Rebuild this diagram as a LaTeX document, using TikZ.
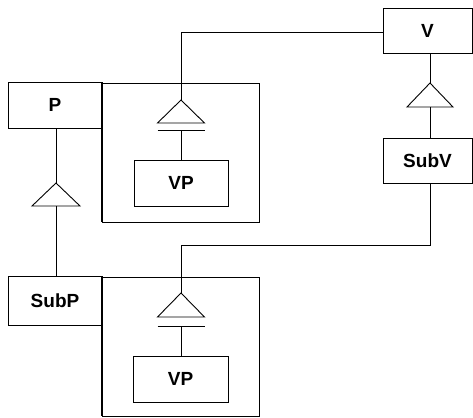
\documentclass[tikz,border=0pt]{standalone}
\usepackage{fontspec}
\setmainfont{Liberation Sans}
\begin{document}
\begin{tikzpicture}[x=1pt,y=-1pt,line width=0.9pt,
  box/.style={draw,rectangle,inner sep=0pt,font=\fontsize{19}{22}\selectfont\bfseries},
  frame/.style={draw,rectangle,inner sep=0pt}]
\useasboundingbox (0,0) rectangle (473,417);
% frames
\node[frame,minimum width=157pt,minimum height=139pt] (F1) at (180.5,152.5) {};
\node[frame,minimum width=157pt,minimum height=139pt] (F2) at (180.5,346.5) {};
% boxes
\node[box,minimum width=89pt,minimum height=45pt] (V) at (427.5,30.5) {V};
\node[box,minimum width=89pt,minimum height=45pt] (SubV) at (427.5,160.5) {SubV};
\node[box,minimum width=94pt,minimum height=46pt,fill=white] (P) at (55,105) {P};
\node[box,minimum width=94pt,minimum height=49pt,fill=white] (SubP) at (55,300.5) {SubP};
\node[box,minimum width=94pt,minimum height=46pt] (VP1) at (181,183) {VP};
\node[box,minimum width=95pt,minimum height=46pt] (VP2) at (180.5,379) {VP};
% re-draw frame edges over filled boxes
\draw (F1.north west) -- (F1.south west);
\draw (F2.north west) -- (F2.south west);
% triangle apexes, bases and bars
\coordinate (tA) at (181,100); \coordinate (tAb) at (181,123); \coordinate (barA) at (181,130);
\coordinate (tP) at (56,183);  \coordinate (tPb) at (56,206);
\coordinate (tV) at (430,83);  \coordinate (tVb) at (430,107);
\coordinate (tB) at (181,293); \coordinate (tBb) at (181,317); \coordinate (barB) at (181,326);
\draw (tA) -- ++(23.5,23) -- ++(-47,0) -- cycle;
\draw (tP) -- ++(24,23) -- ++(-48,0) -- cycle;
\draw (tV) -- ++(23,24) -- ++(-46,0) -- cycle;
\draw (tB) -- ++(23.5,24) -- ++(-47,0) -- cycle;
\draw ([xshift=-23.5pt]barA) -- ([xshift=23.5pt]barA);
\draw ([xshift=-23.5pt]barB) -- ([xshift=23.5pt]barB);
% connectors
\draw (V.west |- 0,32) -| (tA);
\draw (barA) -- (VP1.north);
\draw (P.south -| tP) -- (tP);
\draw (tPb) -- (SubP.north -| tPb);
\draw (V.south -| tV) -- (tV);
\draw (tVb) -- (SubV.north -| tVb);
\coordinate (c1) at (430,245);
\draw (SubV.south -| c1) -- (c1) -| (tB);
\draw (barB) -- (VP2.north -| barB);
\end{tikzpicture}
\end{document}
